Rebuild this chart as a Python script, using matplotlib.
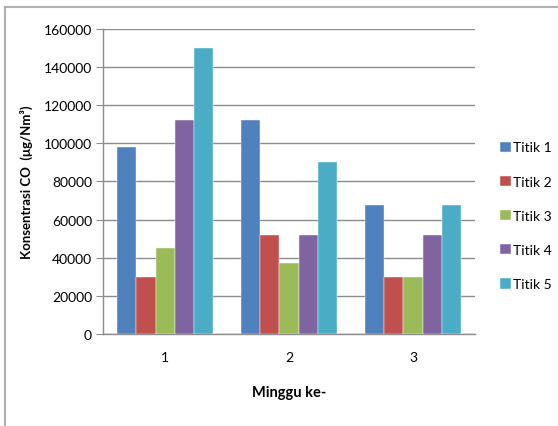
import matplotlib
matplotlib.use("Agg")
import matplotlib.pyplot as plt
import numpy as np
from matplotlib.lines import Line2D

plt.rcParams['font.family'] = ['Lato', 'DejaVu Sans']

minggu = ['1', '2', '3']
titik = ['Titik 1', 'Titik 2', 'Titik 3', 'Titik 4', 'Titik 5']
titik1 = [98000, 112000, 67500]
titik2 = [30000, 52000, 30000]
titik3 = [45000, 37000, 30000]
titik4 = [112000, 52000, 52000]
titik5 = [150000, 90000, 67500]
colors = ['#4F81BD', '#C0504D', '#9BBB59', '#8064A2', '#4BACC6']

fig = plt.figure(figsize=(5.58, 4.27), dpi=100)
ax = fig.add_axes([0.185, 0.2155, 0.666, 0.7145])

x = np.arange(len(minggu))
w = 0.155
for i, vals in enumerate([titik1, titik2, titik3, titik4, titik5]):
    ax.bar(x + (i - 2) * w, vals, w, color=colors[i], label=titik[i],
           edgecolor='white', linewidth=0.3, zorder=3)

ax.set_xlim(-0.5, 2.5)
ax.set_ylim(0, 160000)
ax.set_yticks(np.arange(0, 160001, 20000))
ax.yaxis.grid(True, color='#8c8c8c', linewidth=1.0, zorder=0)
ax.set_xticks(x)
ax.set_xticklabels(minggu)
ax.tick_params(axis='y', length=5, color='#8c8c8c', labelsize=10, pad=3)
ax.tick_params(axis='x', length=0, labelsize=10, pad=12)
for s in ['top', 'right']:
    ax.spines[s].set_visible(False)
for s in ['left', 'bottom']:
    ax.spines[s].set_color('#8c8c8c')
    ax.spines[s].set_linewidth(1.0)

ax.set_xlabel('Minggu ke-', fontsize=10.5, fontweight='bold', labelpad=16)
ax.set_ylabel('Konsentrasi CO  (μg/Nm³)', fontsize=9.5, fontweight='bold',
              labelpad=8)

ax.legend(loc='center left', bbox_to_anchor=(1.05, 0.387), frameon=False,
          fontsize=10, handlelength=0.75, handleheight=0.75, handletextpad=0.15,
          labelspacing=1.6, borderpad=0)

# outer frame
fig.add_artist(Line2D([0.009, 0.009], [0, 0.982], color='#b0b0b0', linewidth=1.5))
fig.add_artist(Line2D([0.009, 1.0], [0.982, 0.982], color='#b0b0b0', linewidth=1.5))

fig.savefig('out.png', dpi=100)
